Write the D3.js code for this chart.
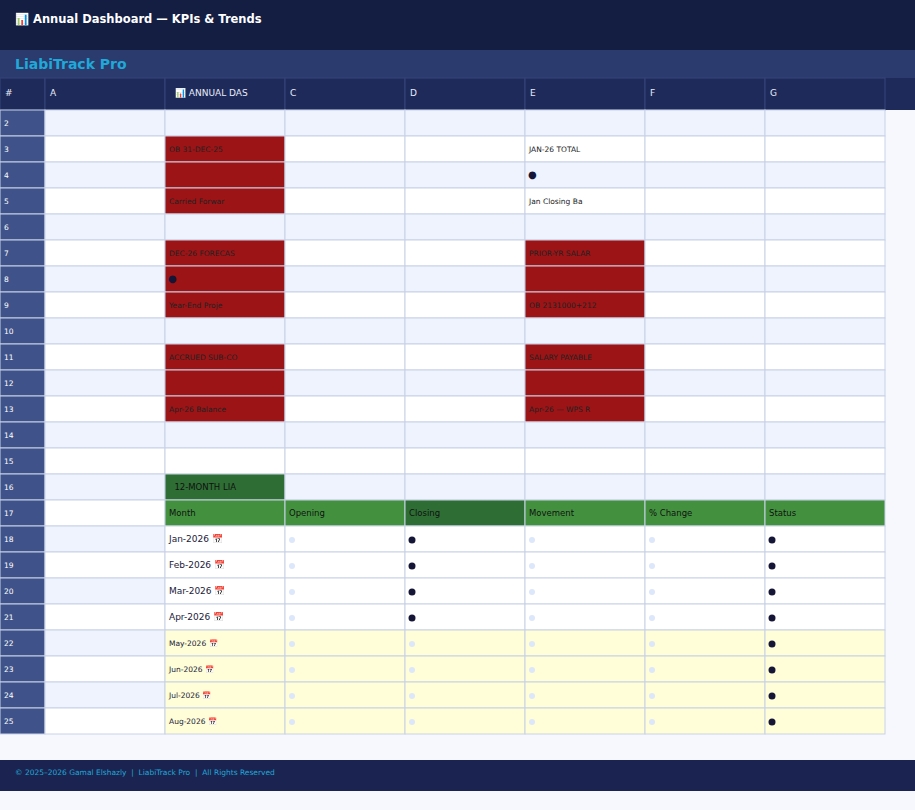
<!DOCTYPE html>
<html><head><meta charset="utf-8">
<script src="https://cdn.jsdelivr.net/npm/d3@7"></script>
<style>body{margin:0;background:#f7f8fe;font-family:"DejaVu Sans",sans-serif} text{white-space:pre}</style>
</head><body><svg id="c" width="915" height="810"></svg>
<script>
var columns = ["#", "A", "\u{1F4CA} ANNUAL DAS", "C", "D", "E", "F", "G"];
var colWidths = [45, 120, 120, 120, 120, 120, 120, 120];
var rowNums = d3.range(2, 26);
var redCells = ["B3","B4","B5","B7","B8","B9","B11","B12","B13","E7","E8","E9","E11","E12","E13"];
var cellText = {B3:"OB 31-DEC-25",B5:"Carried Forwar",B7:"DEC-26 FORECAS",B8:"●",B9:"Year-End Proje",
  B11:"ACCRUED SUB-CO",B13:"Apr-26 Balance",E3:"JAN-26 TOTAL",E4:"●",E5:"Jan Closing Ba",
  E7:"PRIOR-YR SALAR",E9:"OB 2131000+212",E11:"SALARY PAYABLE",E13:"Apr-26 — WPS R",B16:"  12-MONTH LIA"};
var tableHeaders = ["Month","Opening","Closing","Movement","% Change","Status"];
var months = ["Jan-2026","Feb-2026","Mar-2026","Apr-2026","May-2026","Jun-2026","Jul-2026","Aug-2026"];
var actualMonths = 4;

var svg = d3.select("#c");
var x0 = d3.cumsum([0].concat(colWidths));
var y = d3.scaleBand().domain(rowNums).range([110, 734]);
var letters = ["#","A","B","C","D","E","F","G"];

svg.append("rect").attr("width",915).attr("height",50).attr("fill","#141e42");
svg.append("text").attr("x",15).attr("y",23).attr("fill","#fff").attr("font-size",11.5).attr("font-weight","bold")
  .text("\u{1F4CA} Annual Dashboard — KPIs & Trends");
svg.append("rect").attr("y",50).attr("width",915).attr("height",28).attr("fill","#2b3b6e");
svg.append("text").attr("x",15).attr("y",69).attr("fill","#1fa8d8").attr("font-size",14).attr("font-weight","bold").text("LiabiTrack Pro");
svg.append("rect").attr("y",78).attr("width",915).attr("height",32).attr("fill","#1e2a5a");
columns.forEach(function(c,i){
  svg.append("rect").attr("x",x0[i]).attr("y",78).attr("width",colWidths[i]).attr("height",32)
    .attr("fill","#1e2a5a").attr("stroke","#34447a");
  svg.append("text").attr("x",x0[i]+(i==2?10:5)).attr("y",96).attr("fill","#e8ecf8").attr("font-size",9).text(c);
});

rowNums.forEach(function(r){
  var ry = y(r), h = y.bandwidth();
  letters.forEach(function(L,i){
    var key = L + r, fill = r%2==0 ? "#eef3fd" : "#fff", txt = cellText[key], tc = "#222", fs = 7.5;
    if (i==0) { fill = "#3f538a"; txt = String(r); tc = "#fff"; }
    if (redCells.indexOf(key)>=0) fill = "#9c1416";
    if (key=="B16") { fill = "#2e6e34"; tc = "#111"; fs = 8.5; }
    if (r==17 && i>=2) { fill = i==4 ? "#2e6e34" : "#43913f"; txt = tableHeaders[i-2]; fs = 8.5; tc="#111"; }
    var dot = null;
    if (r>=18 && i>=2) {
      var m = r-18, actual = m < actualMonths;
      fill = actual ? "#fff" : "#fffed8";
      if (i==2) { txt = months[m] + " \u{1F4C5}"; fs = actual ? 9 : 7.5; tc = "#1a1a3a"; }
      else dot = (i==7 || (i==4 && actual)) ? "#151538" : "#dde7fb";
    }
    svg.append("rect").attr("x",x0[i]).attr("y",ry).attr("width",colWidths[i]).attr("height",h)
      .attr("fill",fill).attr("stroke","#c8d2e6");
    if (txt) {
      svg.append("text").attr("x",x0[i]+(txt=="●"?3:4)).attr("y",ry+h/2+3).attr("fill",txt=="●"?"#151538":tc)
        .attr("font-size",txt=="●"?10:fs).text(txt);
    }
    if (dot) svg.append("circle").attr("cx",x0[i]+7).attr("cy",ry+h/2+1).attr("r",dot=="#151538"?3.5:3).attr("fill",dot);
  });
});

svg.append("rect").attr("y",760).attr("width",915).attr("height",31).attr("fill","#1b2450");
svg.append("text").attr("x",15).attr("y",775).attr("fill","#1fa8d8").attr("font-size",7.5)
  .text("© 2025–2026 Gamal Elshazly  |  LiabiTrack Pro  |  All Rights Reserved");
</script></body></html>
